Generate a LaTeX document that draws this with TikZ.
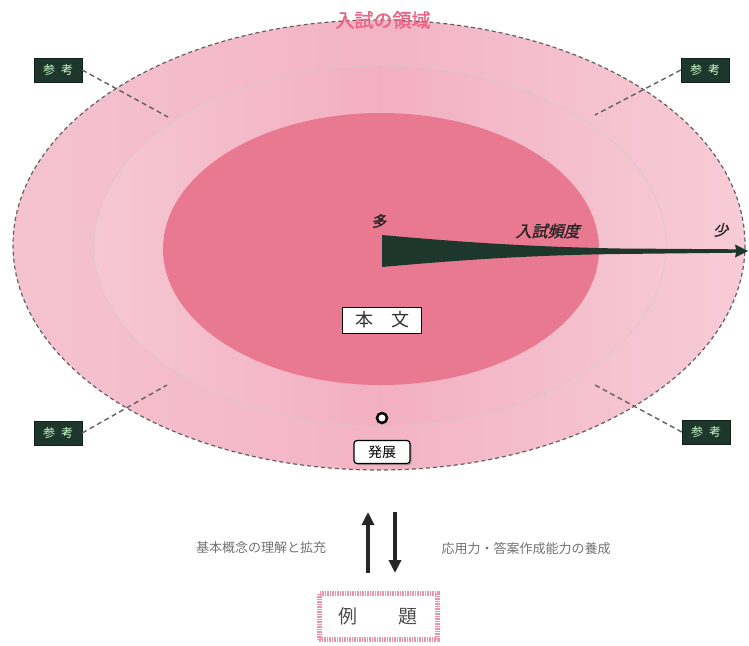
\documentclass[tikz,border=0pt]{standalone}
\usepackage{fontspec}
\setmainfont{Noto Sans CJK JP}
\newfontfamily\jpb{Noto Sans CJK JP}[FakeBold=1.5]
\usetikzlibrary{arrows.meta,shadows}
\definecolor{outerpink}{RGB}{243,180,197}
\definecolor{lightpink}{RGB}{250,222,230}
\definecolor{innerpink}{RGB}{233,121,144}
\definecolor{darkgreen}{RGB}{30,55,45}
\definecolor{titlepink}{RGB}{234,100,135}
\definecolor{leadgray}{RGB}{100,95,100}
\tikzset{
  sankou/.style={fill=darkgreen, draw=darkgreen!60!black, minimum width=48pt, minimum height=24pt, inner sep=0pt, text=white!80!green, font=\fontsize{12}{12}\selectfont},
  leader/.style={draw=leadgray, dashed, dash pattern=on 5pt off 3.5pt, line width=1.4pt},
  labelbox/.style={fill=white, draw=black, line width=0.7pt, inner sep=0pt},
  bottomtxt/.style={text=black!55, font=\fontsize{13}{13}\selectfont},
  vert/.style={draw=black!85, line width=3.5pt, -{Triangle[length=13pt,width=12pt]}},
  slanted/.style={text=black!85, xslant=0.25}
}
\begin{document}
\begin{tikzpicture}[x=1pt,y=-1pt]
\useasboundingbox (0,0) rectangle (749,645);
\fill[white] (0,0) rectangle (749,645);
% outer region
\begin{scope}
\clip (379,245) ellipse [x radius=366, y radius=225];
\shade[left color=outerpink!65!lightpink, right color=outerpink!45!lightpink, middle color=outerpink] (13,0) rectangle (745,480);
\end{scope}
\draw[leadgray, dashed, dash pattern=on 4pt off 3pt, line width=1.2pt] (379,245) ellipse [x radius=366, y radius=225];
% middle ring
\begin{scope}
\clip (380,246) ellipse [x radius=286, y radius=180];
\shade[left color=outerpink!55!lightpink, right color=outerpink!55!lightpink, middle color=outerpink!92!innerpink] (94,0) rectangle (666,480);
\end{scope}
\draw[black!20, line width=0.4pt] (380,246) ellipse [x radius=286, y radius=180];
% inner
\fill[innerpink] (381,249) ellipse [x radius=218, y radius=136];
% title
\node[font=\jpb\fontsize{19}{19}\selectfont, text=titlepink, inner sep=1pt] (title) at (383,20) {入試の領域};
% sankou boxes
\node[sankou] (s1) at (58,70) {参\hspace{6pt}考};
\node[sankou] (s2) at (705,70) {参\hspace{6pt}考};
\node[sankou] (s3) at (58,433) {参\hspace{6pt}考};
\node[sankou] (s4) at (706,432) {参\hspace{6pt}考};
\coordinate (e1) at (168,117);
\coordinate (e2) at (595,115);
\coordinate (e3) at (167,385);
\coordinate (e4) at (595,385);
\draw[leader] (s1.east) -- (e1);
\draw[leader] (s2.west) -- (e2);
\draw[leader] (s3.east) -- (e3);
\draw[leader] (s4.west) -- (e4);
% frequency wedge arrow
\coordinate (wtop) at (382,235);
\coordinate (wbot) at (382,267);
\coordinate (wtip) at (748,251);
\fill[darkgreen] (wtop) .. controls (470,243) and (540,247) .. (620,248.5) -- (736,249.3) -- (735,244.5) -- (wtip) -- (735,257.5) -- (736,252.7) -- (620,254) .. controls (540,255) and (470,259) .. (wbot) -- cycle;
\node[font=\fontsize{15}{15}\selectfont, slanted] (many) at (380,221) {\jpb 多};
\node[font=\fontsize{16}{16}\selectfont, slanted] (freq) at (549,231) {\jpb 入試頻度};
\node[font=\fontsize{15}{15}\selectfont, slanted] (few) at (722,230) {\jpb 少};
% honbun
\node[labelbox, minimum width=79pt, minimum height=26pt, font=\fontsize{18}{18}\selectfont, text=black!80] (honbun) at (382,320) {本\hspace{18pt}文};
% small circle
\node[circle, draw=black, fill=white, line width=2.5pt, minimum size=10pt, inner sep=0pt] (dot) at (382,418) {};
% hatten
\node[labelbox, rounded corners=3pt, line width=1.2pt, minimum width=56pt, minimum height=23pt, font=\fontsize{14}{14}\selectfont, drop shadow={shadow xshift=1.5pt, shadow yshift=-1.5pt, fill=black!60}] (hatten) at (382,452) {発展};
% bottom texts
\node[bottomtxt] (left) at (261,548) {基本概念の理解と拡充};
\node[bottomtxt] (right) at (526,548) {応用力・答案作成能力の養成};
\coordinate (ua) at (368,573);
\coordinate (ub) at (368,512);
\coordinate (da) at (395,512);
\coordinate (db) at (395,573);
\draw[vert] (ua) -- (ub);
\draw[vert] (da) -- (db);
% reidai
\node[fill=white, draw=innerpink!80!white, line width=5pt, dash pattern=on 1.5pt off 1pt, minimum width=118pt, minimum height=46pt, font=\fontsize{19}{19}\selectfont, text=black!70] (reidai) at (378,616) {例\hspace{42pt}題};
\end{tikzpicture}
\end{document}
